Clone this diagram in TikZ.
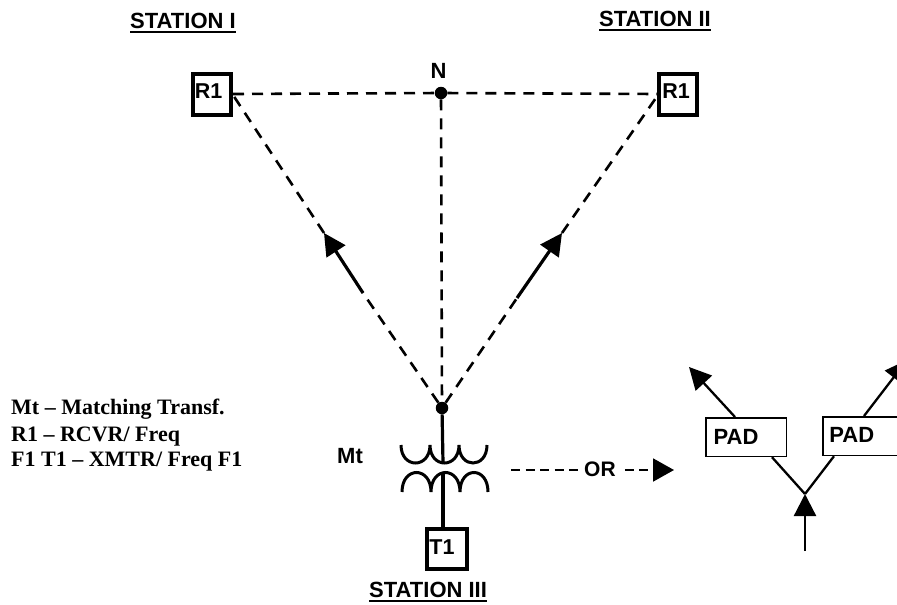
\documentclass[tikz,border=0pt]{standalone}
\usepackage{fontspec}
\setmainfont{Liberation Sans}
\newfontfamily\legendfont{Liberation Serif}
\usetikzlibrary{arrows.meta}
\tikzset{
  lbl/.style={inner sep=0pt,anchor=base west,font=\fontsize{22}{26}\selectfont\bfseries},
  legendtxt/.style={inner sep=0pt,anchor=base west,font=\fontsize{22}{26}\legendfont\bfseries},
  heavybox/.style={draw,line width=4pt,inner sep=0pt,minimum width=38pt,minimum height=41pt,font=\fontsize{21.5}{25}\selectfont\bfseries},
  padbox/.style={draw,line width=1.7pt,inner sep=0pt,anchor=north west,minimum height=38.5pt,font=\fontsize{22}{26}\selectfont\bfseries},
  dashline/.style={line width=2.6pt,dash pattern=on 11pt off 8pt},
  ordash/.style={line width=2pt,dash pattern=on 9pt off 5.5pt},
  solidline/.style={line width=3.2pt},
  thinline/.style={line width=2.3pt},
  ul/.style={line width=2pt},
  head/.style={-{Triangle[length=22pt,width=22pt]}},
  dot/.style={circle,fill=black,inner sep=0pt,minimum size=12.5pt},
  coil/.style={line width=3pt}
}
\begin{document}
\begin{tikzpicture}[x=1pt,y=-1pt]
\useasboundingbox (0,0) rectangle (897,605);
\clip (0,0) rectangle (897,605);
% titles
\node[lbl] (st1) at (130,28) {STATION I};
\node[lbl] (st2) at (599,26) {STATION II};
\node[lbl] (st3) at (369,597) {STATION III};
\draw[ul] ([yshift=-3.5pt]st1.base west) -- ([yshift=-3.5pt]st1.base east);
\draw[ul] ([yshift=-3.5pt]st2.base west) -- ([yshift=-3.5pt]st2.base east);
\draw[ul] ([yshift=-3.5pt]st3.base west) -- ([yshift=-3.5pt]st3.base east);
% receivers
\node[heavybox] (ra) at (212,94) {\raisebox{5pt}{\hspace*{-7pt}R1}};
\node[heavybox] (rb) at (678,94) {\raisebox{5pt}{\hspace*{-4pt}R1}};
\node[dot] (n) at (441,93) {};
\node[lbl,anchor=base] (nl) at (438.5,78) {N};
\draw[dashline] (ra.east) -- (n);
\draw[dashline] (n) -- (rb.west);
% bottom
\node[dot] (m) at (442,408) {};
\draw[dashline] (n) -- (m);
% arrows
\coordinate (lt) at (324,233);
\coordinate (ls) at (363,293);
\coordinate (rt) at (562,233);
\coordinate (rs) at (517,298);
\coordinate (rac) at (233,95);
\coordinate (rbc) at (658,95);
\draw[dashline] (m) -- (ls);
\draw[dashline] (m) -- (rs);
\draw[dashline] (lt) -- (rac);
\draw[dashline] (rt) -- (rbc);
\draw[solidline,head] (ls) -- (lt);
\draw[solidline,head] (rs) -- (rt);
% transformer
\coordinate (c1) at (443,463);
\coordinate (c2) at (443,473);
\draw[solidline] (m) -- (c1);
\draw[coil] (401,445) .. controls (401,469) and (430,469) .. (430,445)
  (430,445) .. controls (430,469) and (459,469) .. (459,445)
  (459,445) .. controls (459,469) and (487,469) .. (487,445);
\draw[coil] (402,492) .. controls (402,466) and (431,466) .. (431,492)
  (431,492) .. controls (431,466) and (460,466) .. (460,492)
  (460,492) .. controls (460,466) and (488,466) .. (488,492);
\node[heavybox,minimum width=40pt,minimum height=40pt] (t1) at (447,549) {\raisebox{3pt}{\hspace*{-10pt}T1}};
\draw[solidline] (c2) -- (t1.north -| c2);
\node[lbl] (mt) at (337,463) {Mt};
% OR
\node[lbl,font=\fontsize{21}{25}\selectfont\bfseries] (or) at (584,476) {OR};
\coordinate (orstart) at (511,470);
\coordinate (ortip) at (674,470);
\coordinate (orbase) at (653,470);
\draw[ordash] (orstart) -- ([xshift=-6pt]or.west |- orstart);
\draw[ordash] ([xshift=9pt]or.east |- orstart) -- (orbase);
\draw[line width=2pt,-{Triangle[length=21pt,width=23pt]}] (orbase) -- (ortip);
% legend
\node[legendtxt] (l1) at (11,414) {Mt – Matching Transf.};
\node[legendtxt] (l2) at (11,441) {R1 – RCVR/ Freq};
\node[legendtxt] (l3) at (11,466) {F1 T1 – XMTR/ Freq F1};
% PADs
\node[padbox,minimum width=80.5pt] (p1) at (705,417) {\hspace*{-20pt}PAD};
\node[padbox,minimum width=90pt] (p2) at (822,416) {\hspace*{-32pt}\raisebox{3pt}{PAD}};
\coordinate (j) at (805,494);
\coordinate (feed) at (805,551);
\coordinate (tip1) at (689,367);
\coordinate (tip2) at (907,360);
\draw[thinline] (j) -- (p1.south west -| 772,0);
\draw[thinline] (j) -- (p2.south west -| 834,0);
\draw[thinline,head] (p1.north west -| 735,0) -- (tip1);
\draw[thinline,head] (p2.north west -| 864,0) -- (tip2);
\draw[thinline,head] (feed) -- (j);
\end{tikzpicture}
\end{document}
